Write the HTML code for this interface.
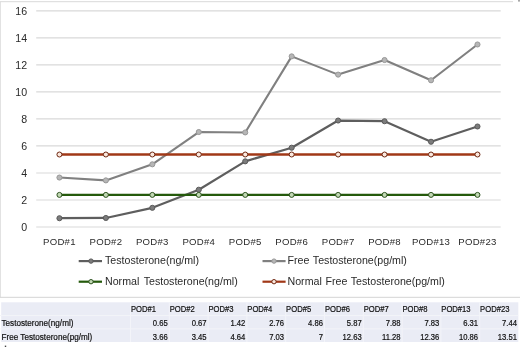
<!DOCTYPE html>
<html><head><meta charset="utf-8"><style>
html,body{margin:0;padding:0;background:#fff;width:520px;height:347px;overflow:hidden}
svg{will-change:transform}
svg text{font-family:"Liberation Sans",sans-serif}
</style></head><body>
<svg width="520" height="347" viewBox="0 0 520 347" style="display:block">
<rect width="520" height="347" fill="#fff"/>
<path d="M0.5 297.3 V1.7" stroke="#e2e2e2" stroke-width="1" fill="none"/><path d="M0 1.7 H513" stroke="#d9d9d9" stroke-width="1" fill="none"/>
<line x1="0" y1="297.3" x2="520" y2="297.3" stroke="#d4d4d4" stroke-width="1"/>
<line x1="36.2" y1="227.00" x2="500.7" y2="227.00" stroke="#d9d9d9" stroke-width="1.15"/>
<text x="27.1" y="230.85" text-anchor="end" font-size="10.6" fill="#2a2a2a">0</text>
<line x1="36.2" y1="199.98" x2="500.7" y2="199.98" stroke="#d9d9d9" stroke-width="1.15"/>
<text x="27.1" y="203.83" text-anchor="end" font-size="10.6" fill="#2a2a2a">2</text>
<line x1="36.2" y1="172.96" x2="500.7" y2="172.96" stroke="#d9d9d9" stroke-width="1.15"/>
<text x="27.1" y="176.81" text-anchor="end" font-size="10.6" fill="#2a2a2a">4</text>
<line x1="36.2" y1="145.94" x2="500.7" y2="145.94" stroke="#d9d9d9" stroke-width="1.15"/>
<text x="27.1" y="149.79" text-anchor="end" font-size="10.6" fill="#2a2a2a">6</text>
<line x1="36.2" y1="118.92" x2="500.7" y2="118.92" stroke="#d9d9d9" stroke-width="1.15"/>
<text x="27.1" y="122.77" text-anchor="end" font-size="10.6" fill="#2a2a2a">8</text>
<line x1="36.2" y1="91.90" x2="500.7" y2="91.90" stroke="#d9d9d9" stroke-width="1.15"/>
<text x="27.1" y="95.75" text-anchor="end" font-size="10.6" fill="#2a2a2a">10</text>
<line x1="36.2" y1="64.88" x2="500.7" y2="64.88" stroke="#d9d9d9" stroke-width="1.15"/>
<text x="27.1" y="68.73" text-anchor="end" font-size="10.6" fill="#2a2a2a">12</text>
<line x1="36.2" y1="37.86" x2="500.7" y2="37.86" stroke="#d9d9d9" stroke-width="1.15"/>
<text x="27.1" y="41.71" text-anchor="end" font-size="10.6" fill="#2a2a2a">14</text>
<line x1="36.2" y1="10.84" x2="500.7" y2="10.84" stroke="#d9d9d9" stroke-width="1.15"/>
<text x="27.1" y="14.69" text-anchor="end" font-size="10.6" fill="#2a2a2a">16</text>
<text x="59.43" y="244.6" text-anchor="middle" font-size="9.6" letter-spacing="0.25" fill="#2a2a2a">POD#1</text>
<text x="105.88" y="244.6" text-anchor="middle" font-size="9.6" letter-spacing="0.25" fill="#2a2a2a">POD#2</text>
<text x="152.32" y="244.6" text-anchor="middle" font-size="9.6" letter-spacing="0.25" fill="#2a2a2a">POD#3</text>
<text x="198.78" y="244.6" text-anchor="middle" font-size="9.6" letter-spacing="0.25" fill="#2a2a2a">POD#4</text>
<text x="245.23" y="244.6" text-anchor="middle" font-size="9.6" letter-spacing="0.25" fill="#2a2a2a">POD#5</text>
<text x="291.68" y="244.6" text-anchor="middle" font-size="9.6" letter-spacing="0.25" fill="#2a2a2a">POD#6</text>
<text x="338.12" y="244.6" text-anchor="middle" font-size="9.6" letter-spacing="0.25" fill="#2a2a2a">POD#7</text>
<text x="384.57" y="244.6" text-anchor="middle" font-size="9.6" letter-spacing="0.25" fill="#2a2a2a">POD#8</text>
<text x="431.03" y="244.6" text-anchor="middle" font-size="9.6" letter-spacing="0.25" fill="#2a2a2a">POD#13</text>
<text x="477.48" y="244.6" text-anchor="middle" font-size="9.6" letter-spacing="0.25" fill="#2a2a2a">POD#23</text>
<polyline points="59.43,177.55 105.88,180.39 152.32,164.31 198.78,132.02 245.23,132.43 291.68,56.37 338.12,74.61 384.57,60.02 431.03,80.28 477.48,44.48" fill="none" stroke="#808080" stroke-width="2.1" stroke-linejoin="round"/>
<circle cx="59.43" cy="177.55" r="2.55" fill="#b6b6b6" stroke="#989898" stroke-width="1"/>
<circle cx="105.88" cy="180.39" r="2.55" fill="#b6b6b6" stroke="#989898" stroke-width="1"/>
<circle cx="152.32" cy="164.31" r="2.55" fill="#b6b6b6" stroke="#989898" stroke-width="1"/>
<circle cx="198.78" cy="132.02" r="2.55" fill="#b6b6b6" stroke="#989898" stroke-width="1"/>
<circle cx="245.23" cy="132.43" r="2.55" fill="#b6b6b6" stroke="#989898" stroke-width="1"/>
<circle cx="291.68" cy="56.37" r="2.55" fill="#b6b6b6" stroke="#989898" stroke-width="1"/>
<circle cx="338.12" cy="74.61" r="2.55" fill="#b6b6b6" stroke="#989898" stroke-width="1"/>
<circle cx="384.57" cy="60.02" r="2.55" fill="#b6b6b6" stroke="#989898" stroke-width="1"/>
<circle cx="431.03" cy="80.28" r="2.55" fill="#b6b6b6" stroke="#989898" stroke-width="1"/>
<circle cx="477.48" cy="44.48" r="2.55" fill="#b6b6b6" stroke="#989898" stroke-width="1"/>
<polyline points="59.43,218.22 105.88,217.95 152.32,207.82 198.78,189.71 245.23,161.34 291.68,147.70 338.12,120.54 384.57,121.22 431.03,141.75 477.48,126.49" fill="none" stroke="#5e5e5e" stroke-width="2.2" stroke-linejoin="round"/>
<circle cx="59.43" cy="218.22" r="2.55" fill="#7c7c7c" stroke="#5a5a5a" stroke-width="1"/>
<circle cx="105.88" cy="217.95" r="2.55" fill="#7c7c7c" stroke="#5a5a5a" stroke-width="1"/>
<circle cx="152.32" cy="207.82" r="2.55" fill="#7c7c7c" stroke="#5a5a5a" stroke-width="1"/>
<circle cx="198.78" cy="189.71" r="2.55" fill="#7c7c7c" stroke="#5a5a5a" stroke-width="1"/>
<circle cx="245.23" cy="161.34" r="2.55" fill="#7c7c7c" stroke="#5a5a5a" stroke-width="1"/>
<circle cx="291.68" cy="147.70" r="2.55" fill="#7c7c7c" stroke="#5a5a5a" stroke-width="1"/>
<circle cx="338.12" cy="120.54" r="2.55" fill="#7c7c7c" stroke="#5a5a5a" stroke-width="1"/>
<circle cx="384.57" cy="121.22" r="2.55" fill="#7c7c7c" stroke="#5a5a5a" stroke-width="1"/>
<circle cx="431.03" cy="141.75" r="2.55" fill="#7c7c7c" stroke="#5a5a5a" stroke-width="1"/>
<circle cx="477.48" cy="126.49" r="2.55" fill="#7c7c7c" stroke="#5a5a5a" stroke-width="1"/>
<polyline points="59.43,194.90 105.88,194.90 152.32,194.90 198.78,194.90 245.23,194.90 291.68,194.90 338.12,194.90 384.57,194.90 431.03,194.90 477.48,194.90" fill="none" stroke="#255a0c" stroke-width="2.2" stroke-linejoin="round"/>
<circle cx="59.43" cy="194.90" r="2.5" fill="#c2d9b4" stroke="#2e5220" stroke-width="1"/>
<circle cx="105.88" cy="194.90" r="2.5" fill="#c2d9b4" stroke="#2e5220" stroke-width="1"/>
<circle cx="152.32" cy="194.90" r="2.5" fill="#c2d9b4" stroke="#2e5220" stroke-width="1"/>
<circle cx="198.78" cy="194.90" r="2.5" fill="#c2d9b4" stroke="#2e5220" stroke-width="1"/>
<circle cx="245.23" cy="194.90" r="2.5" fill="#c2d9b4" stroke="#2e5220" stroke-width="1"/>
<circle cx="291.68" cy="194.90" r="2.5" fill="#c2d9b4" stroke="#2e5220" stroke-width="1"/>
<circle cx="338.12" cy="194.90" r="2.5" fill="#c2d9b4" stroke="#2e5220" stroke-width="1"/>
<circle cx="384.57" cy="194.90" r="2.5" fill="#c2d9b4" stroke="#2e5220" stroke-width="1"/>
<circle cx="431.03" cy="194.90" r="2.5" fill="#c2d9b4" stroke="#2e5220" stroke-width="1"/>
<circle cx="477.48" cy="194.90" r="2.5" fill="#c2d9b4" stroke="#2e5220" stroke-width="1"/>
<polyline points="59.43,154.50 105.88,154.50 152.32,154.50 198.78,154.50 245.23,154.50 291.68,154.50 338.12,154.50 384.57,154.50 431.03,154.50 477.48,154.50" fill="none" stroke="#a13817" stroke-width="2.4" stroke-linejoin="round"/>
<circle cx="59.43" cy="154.50" r="2.5" fill="#fbe8de" stroke="#6e2812" stroke-width="1"/>
<circle cx="105.88" cy="154.50" r="2.5" fill="#fbe8de" stroke="#6e2812" stroke-width="1"/>
<circle cx="152.32" cy="154.50" r="2.5" fill="#fbe8de" stroke="#6e2812" stroke-width="1"/>
<circle cx="198.78" cy="154.50" r="2.5" fill="#fbe8de" stroke="#6e2812" stroke-width="1"/>
<circle cx="245.23" cy="154.50" r="2.5" fill="#fbe8de" stroke="#6e2812" stroke-width="1"/>
<circle cx="291.68" cy="154.50" r="2.5" fill="#fbe8de" stroke="#6e2812" stroke-width="1"/>
<circle cx="338.12" cy="154.50" r="2.5" fill="#fbe8de" stroke="#6e2812" stroke-width="1"/>
<circle cx="384.57" cy="154.50" r="2.5" fill="#fbe8de" stroke="#6e2812" stroke-width="1"/>
<circle cx="431.03" cy="154.50" r="2.5" fill="#fbe8de" stroke="#6e2812" stroke-width="1"/>
<circle cx="477.48" cy="154.50" r="2.5" fill="#fbe8de" stroke="#6e2812" stroke-width="1"/>
<line x1="78.7" y1="261.1" x2="102.0" y2="261.1" stroke="#5e5e5e" stroke-width="2.2"/>
<circle cx="91.00" cy="261.1" r="2.2" fill="#7c7c7c" stroke="#5a5a5a" stroke-width="1"/>
<text x="105" y="264.00" font-size="10.65" word-spacing="0.7" fill="#2a2a2a">Testosterone(ng/ml)</text>
<line x1="262.5" y1="261.1" x2="285.6" y2="261.1" stroke="#808080" stroke-width="2.2"/>
<circle cx="274.00" cy="261.1" r="2.2" fill="#b6b6b6" stroke="#989898" stroke-width="1"/>
<text x="287.5" y="264.00" font-size="10.65" word-spacing="0.7" fill="#2a2a2a">Free Testosterone(pg/ml)</text>
<line x1="78.7" y1="281.7" x2="102.0" y2="281.7" stroke="#255a0c" stroke-width="2.2"/>
<circle cx="91.00" cy="281.7" r="2.2" fill="#c2d9b4" stroke="#2e5220" stroke-width="1"/>
<text x="105" y="284.60" font-size="10.65" word-spacing="1.6" fill="#2a2a2a">Normal Testosterone(ng/ml)</text>
<line x1="262.5" y1="281.7" x2="285.6" y2="281.7" stroke="#a13817" stroke-width="2.2"/>
<circle cx="274.00" cy="281.7" r="2.2" fill="#fbe8de" stroke="#6e2812" stroke-width="1"/>
<text x="287.5" y="284.60" font-size="10.65" word-spacing="0.7" fill="#2a2a2a">Normal Free Testosterone(pg/ml)</text>
<rect x="1.2" y="302.3" width="517.1" height="39.7" fill="#eaecf5"/>
<line x1="0" y1="315.6" x2="518.3" y2="315.6" stroke="#f3f4f9" stroke-width="1"/>
<line x1="0" y1="328.9" x2="518.3" y2="328.9" stroke="#f3f4f9" stroke-width="1"/>
<line x1="130.50" y1="302.3" x2="130.50" y2="342.0" stroke="#f3f4f9" stroke-width="1"/>
<line x1="169.30" y1="302.3" x2="169.30" y2="342.0" stroke="#f3f4f9" stroke-width="1"/>
<line x1="208.10" y1="302.3" x2="208.10" y2="342.0" stroke="#f3f4f9" stroke-width="1"/>
<line x1="246.90" y1="302.3" x2="246.90" y2="342.0" stroke="#f3f4f9" stroke-width="1"/>
<line x1="285.70" y1="302.3" x2="285.70" y2="342.0" stroke="#f3f4f9" stroke-width="1"/>
<line x1="324.50" y1="302.3" x2="324.50" y2="342.0" stroke="#f3f4f9" stroke-width="1"/>
<line x1="363.30" y1="302.3" x2="363.30" y2="342.0" stroke="#f3f4f9" stroke-width="1"/>
<line x1="402.10" y1="302.3" x2="402.10" y2="342.0" stroke="#f3f4f9" stroke-width="1"/>
<line x1="440.90" y1="302.3" x2="440.90" y2="342.0" stroke="#f3f4f9" stroke-width="1"/>
<line x1="479.70" y1="302.3" x2="479.70" y2="342.0" stroke="#f3f4f9" stroke-width="1"/>
<text transform="translate(130.90,312.3) scale(0.822,1)" font-size="9.3" fill="#111111" stroke="#111111" stroke-width="0.22">POD#1</text>
<text transform="translate(169.70,312.3) scale(0.822,1)" font-size="9.3" fill="#111111" stroke="#111111" stroke-width="0.22">POD#2</text>
<text transform="translate(208.50,312.3) scale(0.822,1)" font-size="9.3" fill="#111111" stroke="#111111" stroke-width="0.22">POD#3</text>
<text transform="translate(247.30,312.3) scale(0.822,1)" font-size="9.3" fill="#111111" stroke="#111111" stroke-width="0.22">POD#4</text>
<text transform="translate(286.10,312.3) scale(0.822,1)" font-size="9.3" fill="#111111" stroke="#111111" stroke-width="0.22">POD#5</text>
<text transform="translate(324.90,312.3) scale(0.822,1)" font-size="9.3" fill="#111111" stroke="#111111" stroke-width="0.22">POD#6</text>
<text transform="translate(363.70,312.3) scale(0.822,1)" font-size="9.3" fill="#111111" stroke="#111111" stroke-width="0.22">POD#7</text>
<text transform="translate(402.50,312.3) scale(0.822,1)" font-size="9.3" fill="#111111" stroke="#111111" stroke-width="0.22">POD#8</text>
<text transform="translate(441.30,312.3) scale(0.822,1)" font-size="9.3" fill="#111111" stroke="#111111" stroke-width="0.22">POD#13</text>
<text transform="translate(480.10,312.3) scale(0.822,1)" font-size="9.3" fill="#111111" stroke="#111111" stroke-width="0.22">POD#23</text>
<text transform="translate(1.50,326.2) scale(0.876,1)" font-size="9.3" fill="#111111" stroke="#111111" stroke-width="0.22">Testosterone(ng/ml)</text>
<text transform="translate(167.70,326.2) scale(0.822,1)" text-anchor="end" font-size="9.3" fill="#111111" stroke="#111111" stroke-width="0.22">0.65</text>
<text transform="translate(206.50,326.2) scale(0.822,1)" text-anchor="end" font-size="9.3" fill="#111111" stroke="#111111" stroke-width="0.22">0.67</text>
<text transform="translate(245.30,326.2) scale(0.822,1)" text-anchor="end" font-size="9.3" fill="#111111" stroke="#111111" stroke-width="0.22">1.42</text>
<text transform="translate(284.10,326.2) scale(0.822,1)" text-anchor="end" font-size="9.3" fill="#111111" stroke="#111111" stroke-width="0.22">2.76</text>
<text transform="translate(322.90,326.2) scale(0.822,1)" text-anchor="end" font-size="9.3" fill="#111111" stroke="#111111" stroke-width="0.22">4.86</text>
<text transform="translate(361.70,326.2) scale(0.822,1)" text-anchor="end" font-size="9.3" fill="#111111" stroke="#111111" stroke-width="0.22">5.87</text>
<text transform="translate(400.50,326.2) scale(0.822,1)" text-anchor="end" font-size="9.3" fill="#111111" stroke="#111111" stroke-width="0.22">7.88</text>
<text transform="translate(439.30,326.2) scale(0.822,1)" text-anchor="end" font-size="9.3" fill="#111111" stroke="#111111" stroke-width="0.22">7.83</text>
<text transform="translate(478.10,326.2) scale(0.822,1)" text-anchor="end" font-size="9.3" fill="#111111" stroke="#111111" stroke-width="0.22">6.31</text>
<text transform="translate(516.90,326.2) scale(0.822,1)" text-anchor="end" font-size="9.3" fill="#111111" stroke="#111111" stroke-width="0.22">7.44</text>
<text transform="translate(1.50,340.0) scale(0.876,1)" font-size="9.3" fill="#111111" stroke="#111111" stroke-width="0.22">Free Testosterone(pg/ml)</text>
<text transform="translate(167.70,340.0) scale(0.822,1)" text-anchor="end" font-size="9.3" fill="#111111" stroke="#111111" stroke-width="0.22">3.66</text>
<text transform="translate(206.50,340.0) scale(0.822,1)" text-anchor="end" font-size="9.3" fill="#111111" stroke="#111111" stroke-width="0.22">3.45</text>
<text transform="translate(245.30,340.0) scale(0.822,1)" text-anchor="end" font-size="9.3" fill="#111111" stroke="#111111" stroke-width="0.22">4.64</text>
<text transform="translate(284.10,340.0) scale(0.822,1)" text-anchor="end" font-size="9.3" fill="#111111" stroke="#111111" stroke-width="0.22">7.03</text>
<text transform="translate(322.90,340.0) scale(0.822,1)" text-anchor="end" font-size="9.3" fill="#111111" stroke="#111111" stroke-width="0.22">7</text>
<text transform="translate(361.70,340.0) scale(0.822,1)" text-anchor="end" font-size="9.3" fill="#111111" stroke="#111111" stroke-width="0.22">12.63</text>
<text transform="translate(400.50,340.0) scale(0.822,1)" text-anchor="end" font-size="9.3" fill="#111111" stroke="#111111" stroke-width="0.22">11.28</text>
<text transform="translate(439.30,340.0) scale(0.822,1)" text-anchor="end" font-size="9.3" fill="#111111" stroke="#111111" stroke-width="0.22">12.36</text>
<text transform="translate(478.10,340.0) scale(0.822,1)" text-anchor="end" font-size="9.3" fill="#111111" stroke="#111111" stroke-width="0.22">10.86</text>
<text transform="translate(516.90,340.0) scale(0.822,1)" text-anchor="end" font-size="9.3" fill="#111111" stroke="#111111" stroke-width="0.22">13.51</text>
<rect x="4.8" y="345.6" width="1.4" height="1.4" fill="#444"/>
<rect x="518" y="0" width="2" height="1.6" fill="#a8a8a8"/>
</svg>
</body></html>
